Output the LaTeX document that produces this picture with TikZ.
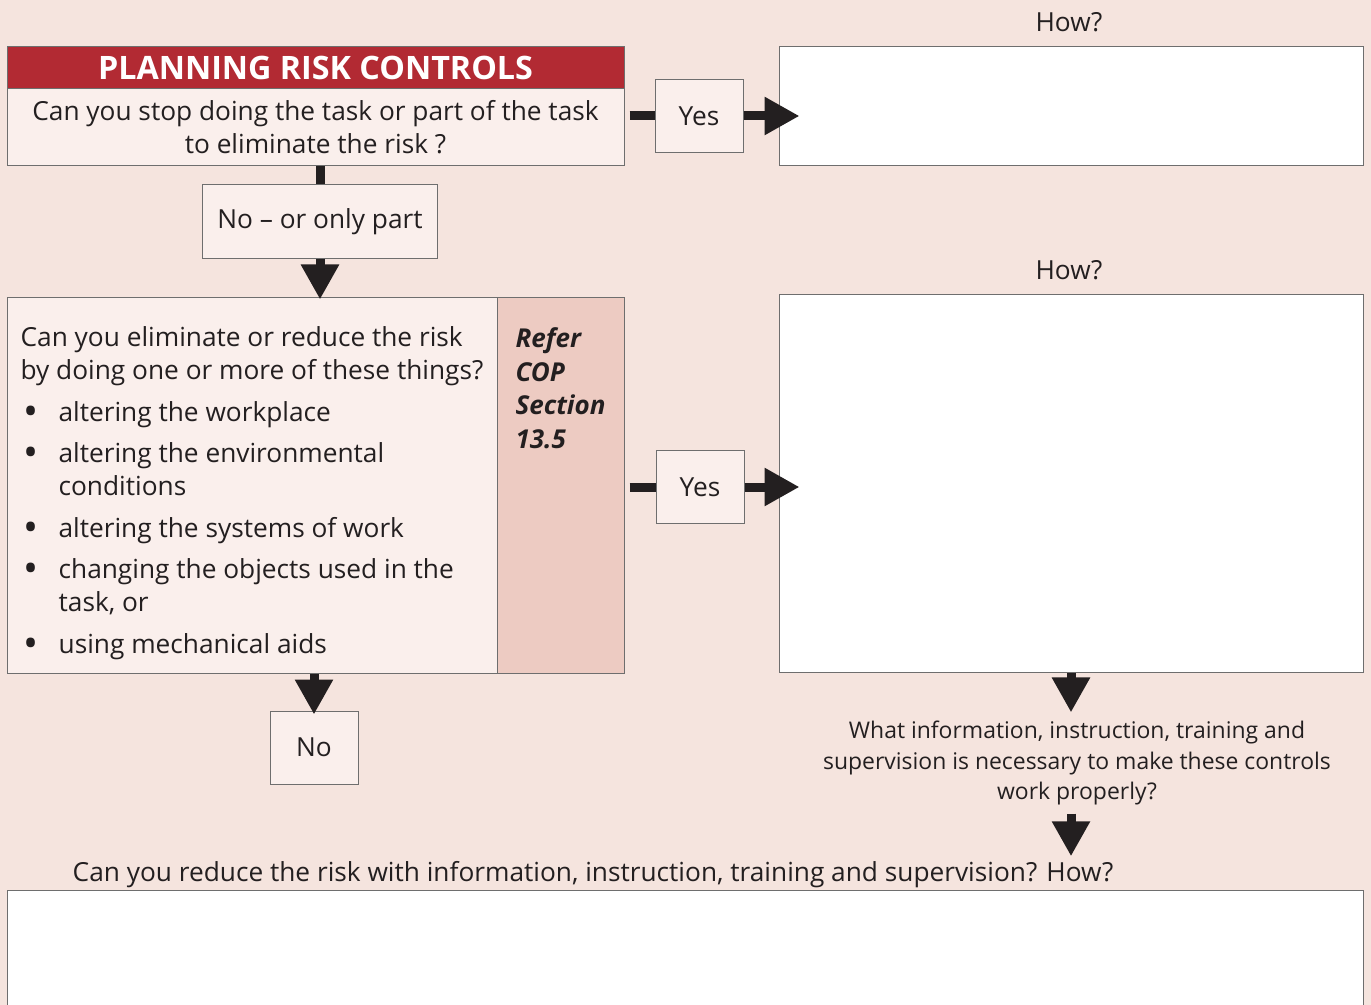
\documentclass[tikz,border=0pt]{standalone}
\usepackage{fontspec}
\setmainfont{Open Sans}
\usetikzlibrary{arrows.meta,positioning}

\definecolor{pagepink}{RGB}{245,228,222}
\definecolor{boxpink}{RGB}{250,239,236}
\definecolor{referpink}{RGB}{237,203,194}
\definecolor{riskred}{RGB}{178,42,51}
\definecolor{edgegrey}{RGB}{110,110,110}
\definecolor{ink}{RGB}{35,31,32}

\newcommand{\mainsize}{\fontsize{19.7}{24.75}\selectfont}
\newcommand{\infosize}{\fontsize{17.2}{22.9}\selectfont}
\newcommand{\titlesize}{\fontsize{24.2}{26}\selectfont}
\newcommand{\refersize}{\fontsize{19.5}{25.3}\selectfont}
\newcommand{\itemgap}{6.4pt}
\newcommand{\bul}{\makebox[28.5pt][l]{\hspace{2pt}\raisebox{-3pt}{\fontsize{30}{0}\selectfont\textbullet}}}

\tikzset{every picture/.style={line width=0.75pt}}

\begin{document}
\begin{tikzpicture}[x=0.75pt,y=0.75pt,yscale=-1,xscale=1,
	frame/.style={draw=edgegrey,inner sep=0pt,text=ink,font=\mainsize},
	askbox/.style={frame,fill=boxpink},
	answer/.style={askbox,minimum width=66pt,minimum height=54.75pt},
	howbox/.style={draw=edgegrey,fill=white,inner sep=0pt,minimum width=438pt},
	titlebar/.style={fill=riskred,draw=edgegrey,text=white,inner sep=0pt,font=\titlesize\bfseries,minimum width=462.75pt,minimum height=31.5pt},
	label/.style={text=ink,inner sep=0pt,font=\mainsize},
	stub/.style={draw=ink,line width=6.75pt},
	flow/.style={stub,-{Triangle[length=26.25pt,width=27pt]}}]
	\useasboundingbox (0,0) rectangle (1371,1005);
	\clip (0,0) rectangle (1371,1005);
	\fill[pagepink] (0,0) rectangle (1371,1005);

	% First question
	\node[titlebar] (title) at (315.5,68) {PLANNING RISK CONTROLS};
	\node[askbox,minimum width=462.75pt,minimum height=57.75pt,align=center] (stop) at (315.5,127.5) {Can you stop doing the task or part of the task\\to eliminate the risk ?};
	\node[answer] (yes1) at (699,116) {Yes};
	\node[label] (how1label) at (1069,22) {How?};
	\node[howbox,minimum height=89.25pt] (how1) at (1071,106.5) {};
	\node[askbox,minimum width=176.25pt,minimum height=55.5pt] (no1) at (320,222) {No -- or only part};

	% Second question
	\node[askbox,minimum width=367.5pt,minimum height=281.25pt,align=left] (reduce) at (252,485.5) {\rule{0pt}{26.5pt}Can you eliminate or reduce the risk\\
		by doing one or more of these things?\\[\itemgap]
		\bul altering the workplace\\[\itemgap]
		\bul altering the environmental\\
		\hspace*{28.5pt}conditions\\[\itemgap]
		\bul altering the systems of work\\[\itemgap]
		\bul changing the objects used in the\\
		\hspace*{28.5pt}task, or\\[\itemgap]
		\bul using mechanical aids};
	\node[frame,fill=referpink,minimum width=95.25pt,minimum height=281.25pt] (refer) at (560.5,485.5) {};
	\node[label,font=\refersize\bfseries\itshape,align=left,anchor=north west] (cop) at (515,327) {Refer\\COP\\Section\\13.5};
	\node[answer] (yes2) at (700,487) {Yes};
	\node[label] (how2label) at (1069,270) {How?};
	\node[howbox,minimum height=282.75pt] (how2) at (1071,483.5) {};
	\node[answer] (no2) at (314,747.5) {No};

	% Information, instruction, training
	\node[label,font=\infosize,align=center,inner ysep=6pt] (info) at (1077,763) {What information, instruction, training and\\supervision is necessary to make these controls\\work properly?};
	\node[label,inner sep=3.75pt] (ask) at (593,875) {Can you reduce the risk with information, instruction, training and supervision? How?};
	\node[howbox,minimum width=1017pt,minimum height=97.5pt] (train) at (685,955) {};

	% Connectors
	\draw[stub,shorten <=3.75pt] (stop.east |- yes1) -- (yes1.west);
	\draw[flow,shorten >=-15.75pt] (yes1.east) -- (yes1 -| how1.west);
	\draw[stub] (stop.south -| no1) -- (no1.north);
	\draw[flow,shorten >=-1.5pt] (no1.south) -- (no1.south |- reduce.north);
	\draw[stub,shorten <=3.75pt] (refer.east |- yes2) -- (yes2.west);
	\draw[flow,shorten >=-15.75pt] (yes2.east) -- (yes2 -| how2.west);
	\draw[flow,shorten >=-3pt] (no2.north |- reduce.south) -- (no2.north);
	\draw[flow] (how2.south) -- (how2.south |- info.north);
	\draw[flow] (how2.south |- info.south) -- (how2.south |- ask.north);

\end{tikzpicture}
\end{document}
